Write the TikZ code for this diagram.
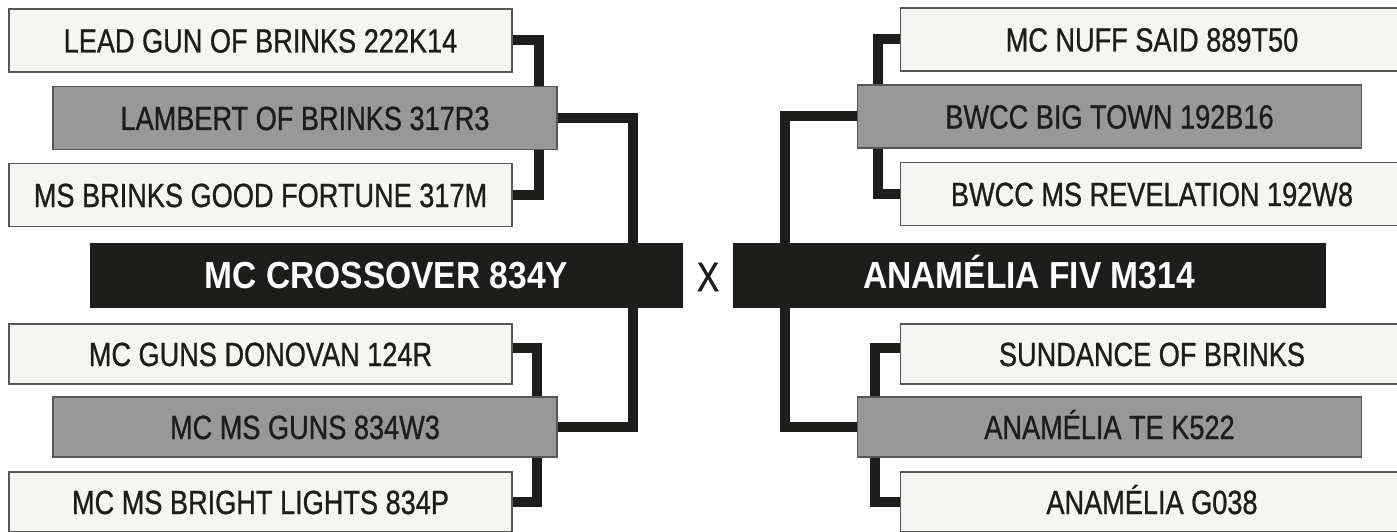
\documentclass[tikz,border=0pt]{standalone}
\usepackage{fontspec}
\newfontfamily\entryfont[FakeStretch=0.81,FakeBold=0.8]{Liberation Sans}
\newfontfamily\parentfont[FakeStretch=0.89]{Liberation Sans}
\usepackage{tikz}
\definecolor{ink}{HTML}{1D1D1B}
\definecolor{paper}{HTML}{F5F5F3}
\definecolor{midgray}{HTML}{989898}
\tikzset{
  box/.style={draw=ink!75, line width=1.2pt, inner sep=0pt, text=ink,
    font=\entryfont\fontsize{33.5}{36}\selectfont,
    text height=24pt, text depth=0pt, minimum height=63pt},
  outer/.style={box, fill=paper, minimum width=503pt},
  inner/.style={box, fill=midgray, minimum width=504pt},
  parent/.style={fill=ink, draw=ink, inner sep=0pt, text=white,
    font=\parentfont\bfseries\fontsize{37.7}{40}\selectfont,
    text height=27pt, text depth=0pt, minimum width=592pt, minimum height=64pt},
  link/.style={draw=ink, line width=10pt}
}

\begin{document}
\begin{tikzpicture}[x=1pt,y=-1pt]
  \useasboundingbox (0,0) rectangle (1397,532);
  % sire side
  \node[outer] (s_ss) at (260.5,40.5) {LEAD GUN OF BRINKS 222K14};
  \node[inner] (s_s) at (305,118) {LAMBERT OF BRINKS 317R3};
  \node[outer] (s_sd) at (260.5,195) {MS BRINKS GOOD FORTUNE 317M};
  \node[parent] (sire) at (386.5,275) {MC CROSSOVER 834Y};
  \node[outer,minimum height=60pt] (s_ds) at (260.5,354) {MC GUNS DONOVAN 124R};
  \node[inner,minimum height=60pt] (s_d) at (305,427) {MC MS GUNS 834W3};
  \node[outer,minimum height=60pt] (s_dd) at (260.5,502) {MC MS BRIGHT LIGHTS 834P};
  % cross
  \node[text=ink, inner sep=0pt, font=\entryfont\fontsize{41}{44}\selectfont] (x) at (708,277) {X};
  % dam side
  \node[outer] (d_ss) at (1152,39.5) {MC NUFF SAID 889T50};
  \node[inner] (d_s) at (1109.5,116.5) {BWCC BIG TOWN 192B16};
  \node[outer] (d_sd) at (1152,194) {BWCC MS REVELATION 192W8};
  \node[parent] (dam) at (1029,275) {ANAMÉLIA FIV M314};
  \node[outer,minimum height=60pt] (d_ds) at (1152,354) {SUNDANCE OF BRINKS};
  \node[inner,minimum height=60pt] (d_d) at (1109.5,427) {ANAMÉLIA TE K522};
  \node[outer,minimum height=60pt] (d_dd) at (1152,502) {ANAMÉLIA G038};

  \draw[link] (s_ss.east) -| ([xshift=-19pt]s_s.north east);
  \draw[link] (s_sd.east) -| ([xshift=-19pt]s_s.south east);
  \draw[link] (s_s.east) -| ([xshift=-50pt]sire.north east);
  \draw[link] (s_d.east) -| ([xshift=-50pt]sire.south east);
  \draw[link] ([yshift=6pt]s_ds.east) -| ([xshift=-21pt]s_d.north east);
  \draw[link] (s_dd.east) -| ([xshift=-21pt]s_d.south east);

  \draw[link] (d_ss.west) -| ([xshift=21pt]d_s.north west);
  \draw[link] (d_sd.west) -| ([xshift=21pt]d_s.south west);
  \draw[link] (d_s.west) -| ([xshift=52pt]dam.north west);
  \draw[link] (d_d.west) -| ([xshift=52pt]dam.south west);
  \draw[link] ([yshift=6pt]d_ds.west) -| ([xshift=18pt]d_d.north west);
  \draw[link] (d_dd.west) -| ([xshift=18pt]d_d.south west);
\end{tikzpicture}
\end{document}
